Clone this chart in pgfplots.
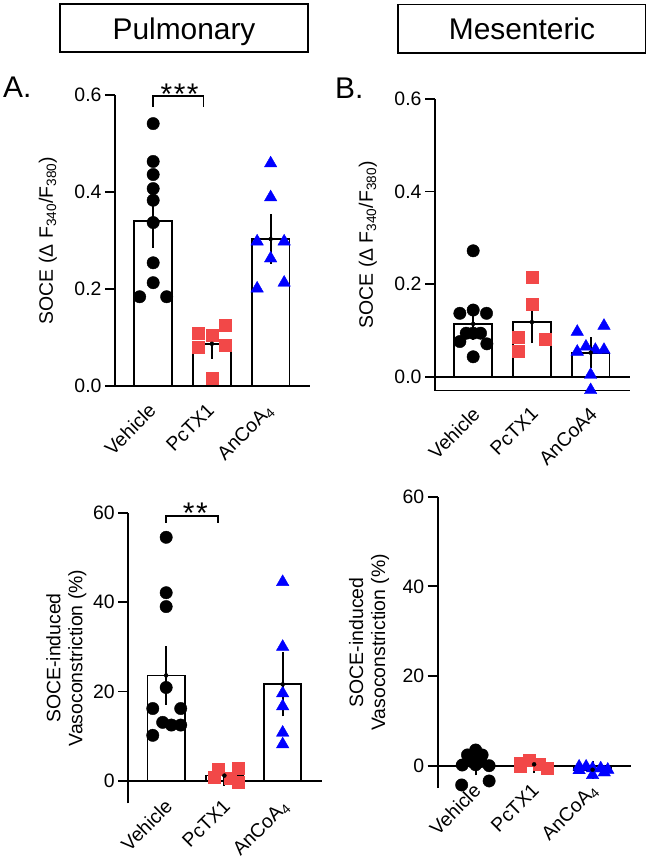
\documentclass[border=0pt]{standalone}
\usepackage{pgfplots}
\pgfplotsset{compat=1.18}
\usepackage{fontspec}
\setmainfont{Liberation Sans}
\definecolor{myred}{RGB}{242,72,72}
\definecolor{myblue}{RGB}{0,0,255}
\pgfplotsset{
  panel/.style={
    scale only axis,
    anchor=south west,
    axis lines=left,
    axis line style={-, line width=1.8bp},
    tick align=outside,
    major tick length=10bp,
    ytick style={line width=1.8bp, black},
    xtick style={draw=none},
    xmin=-0.65, xmax=2.67,
    xtick={0,1,2},
    tick label style={font=\fontsize{19.5}{22}\selectfont},
    label style={font=\fontsize{19.5}{22}\selectfont},
    xticklabel style={inner sep=0pt},
    ylabel style={anchor=center},
    /pgf/number format/assume math mode=true,
    clip=false,
  },
  barst/.style={ybar, bar width=0.64, bar shift=0pt, fill=white, draw=black, line width=1.8bp},
  errst/.style={only marks, mark=none, black, forget plot,
    error bars/.cd, y dir=both, y explicit,
    error bar style={line width=2bp, black},
    error mark options={line width=2bp, mark size=7.5bp, black}},
  vehst/.style={only marks, mark=*, mark size=6.2bp, black, mark options={fill=black, draw=black}},
  pcst/.style={only marks, mark=square*, mark size=6bp, mark options={fill=myred, draw=myred}},
  anst/.style={only marks, mark=triangle*, mark size=7.2bp, mark options={fill=myblue, draw=myblue}},
}
\begin{document}
\begin{tikzpicture}
\useasboundingbox (0,0) rectangle (650bp,864bp);
% titles
\draw[line width=1.6bp] (60bp,860bp) rectangle (308bp,812bp);
\node[anchor=base, font=\fontsize{30}{36}\selectfont] at (184bp,824bp) {Pulmonary};
\draw[line width=1.6bp] (398bp,859.5bp) rectangle (645.5bp,811bp);
\node[anchor=base, font=\fontsize{30}{36}\selectfont] at (522bp,824bp) {Mesenteric};
\node[anchor=base west, inner sep=0pt, font=\fontsize{30}{36}\selectfont] at (3bp,766bp) {A.};
\node[anchor=base west, inner sep=0pt, font=\fontsize{30}{36}\selectfont] at (335bp,765bp) {B.};

% ---------- Panel A top ----------
\begin{axis}[panel, at={(115bp,478bp)}, width=195bp, height=291bp,
  ymin=0, ymax=0.6, ytick={0,0.2,0.4,0.6},
  y tick label style={/pgf/number format/.cd, fixed, fixed zerofill, precision=1, /tikz/.cd},
  xticklabels={Vehicle,PcTX1,AnCoA\textsubscript{4}},
  xticklabel style={xshift=-6bp, yshift=-6bp, rotate=45, anchor=north east},
  ylabel={SOCE (Δ F\textsubscript{340}/F\textsubscript{380})},
  ylabel style={at={(axis description cs:-0.344,0.5)}},
]
\addplot[barst] coordinates {(0,0.340) (1,0.087) (2,0.303)};
\addplot[vehst] coordinates {(0,0.541) (0,0.463) (0,0.436) (0,0.407) (0,0.383) (0,0.337) (0,0.254) (0,0.213) (-0.23,0.184) (0.23,0.184)};
\addplot[pcst] coordinates {(0.77,0.109) (1,0.105) (1.23,0.126) (0.77,0.080) (1.23,0.085) (1,0.016)};
\addplot[anst] coordinates {(2,0.459) (2,0.389) (1.77,0.298) (2.23,0.298) (2,0.263) (1.77,0.201) (2.23,0.213)};
\addplot[errst] coordinates {(0,0.340) +- (0,0.040) (1,0.087) +- (0,0.015) (2,0.303) +- (0,0.036)};
\draw[line width=1.6bp] (axis cs:0,0.576) -- (axis cs:0,0.598) -- (axis cs:0.86,0.598) -- (axis cs:0.86,0.576);
\node[anchor=base, inner sep=0pt, font=\fontsize{30}{30}\selectfont] at (axis cs:0.45,0.581) {*\kern1.5bp*\kern1.5bp*};
\end{axis}

% ---------- Panel B top ----------
\begin{axis}[panel, at={(435bp,473.4bp)}, width=195bp, height=291.6bp,
  ymin=-0.03, ymax=0.6, ytick={0,0.2,0.4,0.6},
  y tick label style={/pgf/number format/.cd, fixed, fixed zerofill, precision=1, /tikz/.cd},
  xticklabels={Vehicle,PcTX1,AnCoA4},
  xticklabel style={xshift=-2bp, yshift=-5bp, rotate=45, anchor=north east},
  ylabel={SOCE (Δ F\textsubscript{340}/F\textsubscript{380})},
  ylabel style={at={(axis description cs:-0.344,0.5)}},
]
\draw[line width=1.8bp] (axis cs:-0.65,0) -- (axis cs:2.67,0);
\addplot[barst] coordinates {(0,0.114) (1,0.118) (2,0.052)};
\addplot[vehst] coordinates {(0,0.272) (-0.227,0.137) (0,0.144) (0.227,0.137) (-0.118,0.094) (0,0.094) (0.125,0.094) (-0.227,0.076) (0.233,0.071) (0,0.043)};
\addplot[pcst] coordinates {(1,0.216) (1,0.157) (0.773,0.086) (1.233,0.081) (0.773,0.056)};
\addplot[anst] coordinates {(1.772,0.097) (2.227,0.110) (1.772,0.054) (1.92,0.065) (2.08,0.058) (2.227,0.058) (2,0.004) (2,-0.029)};
\addplot[errst] coordinates {(0,0.114) +- (0,0.018) (1,0.118) +- (0,0.029) (2,0.052) +- (0,0.017)};
\end{axis}

% ---------- Panel A bottom ----------
\begin{axis}[panel, at={(128.3bp,60.7bp)}, width=193.4bp, height=290.6bp,
  ymin=-5, ymax=60, ytick={0,20,40,60},
  x axis line style={draw=none},
  xticklabels={Vehicle,PcTX1,AnCoA\textsubscript{4}},
  xticklabel style={xshift=-2.5bp, yshift=15.5bp, rotate=45, anchor=north east},
  ylabel={SOCE-induced\\Vasoconstriction (\%)},
  ylabel style={align=center, at={(axis description cs:-0.32,0.5)}},
]
\draw[line width=1.8bp] (axis cs:-0.65,0) -- (axis cs:2.67,0);
\addplot[barst] coordinates {(0,23.6) (1,1.2) (2,21.6)};
\addplot[vehst] coordinates {(0,54.5) (0,42.1) (0,39.0) (0,20.9) (-0.23,16.2) (0.25,16.2) (-0.06,13.1) (0.09,12.5) (0.25,12.5) (-0.23,10.2)};
\addplot[pcst] coordinates {(0.82,0.8) (0.90,2.6) (1.10,0.7) (1.23,2.8) (1.23,-0.3)};
\addplot[anst] coordinates {(2,44.5) (2,30.0) (2,19.6) (2,16.7) (2,10.8) (2,8.2)};
\addplot[errst] coordinates {(0,23.6) +- (0,4.9) (1,1.2) +- (0,0.6) (2,21.6) +- (0,5.5)};
\draw[line width=1.6bp] (axis cs:0,57.8) -- (axis cs:0,59.3) -- (axis cs:0.89,59.3) -- (axis cs:0.89,57.8);
\node[anchor=base, inner sep=0pt, font=\fontsize{30}{30}\selectfont] at (axis cs:0.5,57.6) {*\kern1.5bp*};
\end{axis}

% ---------- Panel B bottom ----------
\begin{axis}[panel, at={(437.7bp,75.9bp)}, width=194bp, height=291.4bp,
  ymin=-5, ymax=60, ytick={0,20,40,60},
  x axis line style={draw=none},
  xticklabels={Vehicle,PcTX1,AnCoA\textsubscript{4}},
  xticklabel style={xshift=-3.5bp, yshift=16bp, rotate=45, anchor=north east},
  ylabel={SOCE-induced\\Vasoconstriction (\%)},
  ylabel style={align=center, at={(axis description cs:-0.354,0.5)}},
]
\draw[line width=1.8bp] (axis cs:-0.67,0) -- (axis cs:2.66,0);
\addplot[barst] coordinates {(0,0.3) (1,0.3) (2,-0.9)};
\addplot[vehst] coordinates {(0,3.5) (-0.14,2.4) (0.11,2.4) (-0.23,0.15) (-0.06,0.9) (0.09,0.9) (0.23,0.0) (0,0.2) (-0.24,-4.3) (0.23,-3.4)};
\addplot[pcst] coordinates {(0.77,0.5) (0.91,1.2) (1.09,0.3) (1.23,-0.6) (0.77,-0.2)};
\addplot[anst] coordinates {(1.77,-0.2) (1.89,-0.2) (2,-0.6) (2,-2.1) (2.14,-0.6) (2.26,-0.9) (1.77,-1.0) (2.2,-1.5)};
\addplot[errst] coordinates {(0,0.3) +- (0,0.8) (1,0.3) +- (0,0.3) (2,-0.9) +- (0,0.3)};
\end{axis}
\end{tikzpicture}
\end{document}
